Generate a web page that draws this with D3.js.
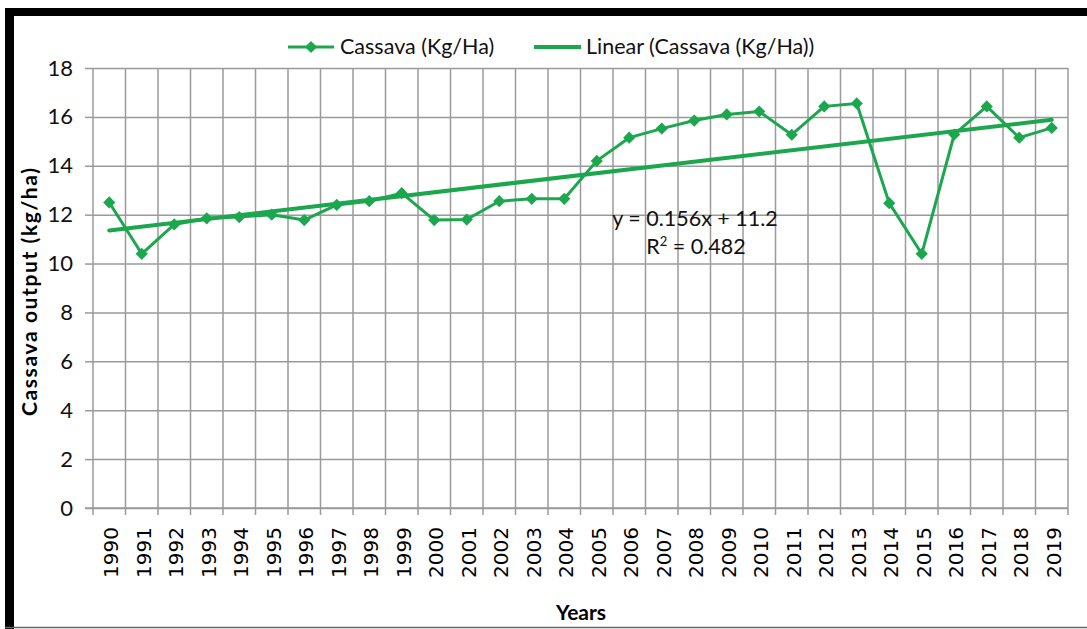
<!DOCTYPE html>
<html>
<head>
<meta charset="utf-8">
<script src="https://cdn.jsdelivr.net/npm/d3@7"></script>
<style>
    body { margin: 0; background: #ffffff; }
    svg { display: block; }
</style>
</head>
<body>
<script>

// values
const years = ['1990','1991','1992','1993','1994','1995','1996','1997','1998','1999',
               '2000','2001','2002','2003','2004','2005','2006','2007','2008','2009',
               '2010','2011','2012','2013','2014','2015','2016','2017','2018','2019']

const cassava = [12.5, 10.4, 11.6, 11.85, 11.9, 12.0, 11.78, 12.4, 12.55, 12.88,
                 11.78, 11.8, 12.55, 12.65, 12.65, 14.2, 15.15, 15.52, 15.85, 16.1,
                 16.22, 15.27, 16.43, 16.55, 12.47, 10.4, 15.28, 16.43, 15.15, 15.55]

const yTicks = [0, 2, 4, 6, 8, 10, 12, 14, 16, 18]

// trendline as printed on the chart
const trendSlope = 0.156
const trendIntercept = 11.2
const trendLabel = 'y = 0.156x + 11.2'
const r2Label = '0.482'

const legendLabels = ['Cassava (Kg/Ha)', 'Linear (Cassava (Kg/Ha))']

const green = '#1ca74e'
const gridColor = '#9a9a9a'
const labelFont = 'Lato, "Open Sans", sans-serif'
const yearFont = '"DejaVu Sans", Verdana, sans-serif'

const width = 1087
const height = 629
const plot = {left: 93, right: 1068, top: 68, bottom: 508}

const svg = d3.select('body').append('svg')
    .attr('width', width)
    .attr('height', height)

// frame: thick black on top and left, thin grey at bottom
svg.append('rect').attr('x', 0).attr('y', 0).attr('width', width).attr('height', height).attr('fill', 'white')
svg.append('rect').attr('x', 5).attr('y', 8).attr('width', width - 5).attr('height', 8).attr('fill', 'black')
svg.append('rect').attr('x', 5).attr('y', 8).attr('width', 9).attr('height', height - 8).attr('fill', 'black')
svg.append('line')
    .attr('x1', 5).attr('x2', width)
    .attr('y1', 627.5).attr('y2', 627.5)
    .attr('stroke', '#666').attr('stroke-width', 1.5)

const x = d3.scaleBand()
    .domain(years)
    .range([plot.left, plot.right])

const y = d3.scaleLinear()
    .domain([0, 18])
    .range([plot.bottom, plot.top])

// trend line uses x = 1..30 like the spreadsheet does
const xIndex = d3.scaleLinear()
    .domain([1, years.length])
    .range([x(years[0]) + x.bandwidth() / 2, x(years[years.length - 1]) + x.bandwidth() / 2])

// horizontal grid + left ticks
const yAxis = svg.append('g')
    .attr('transform', `translate(${plot.left},0)`)
    .call(d3.axisLeft(y).tickValues(yTicks).tickSize(8).tickPadding(12))

yAxis.select('.domain').remove()
yAxis.selectAll('.tick line')
    .attr('stroke', gridColor)
    .attr('stroke-width', 1.5)
    .clone()
    .attr('x2', plot.right - plot.left)
    .attr('x1', 0)
yAxis.selectAll('.tick text')
    .style('font-family', labelFont)
    .style('font-size', '22px')
    .attr('fill', '#111')

// vertical grid at category edges
const edges = years.map(d => x(d)).concat([plot.right])
svg.append('g').selectAll('line')
    .data(edges)
    .join('line')
    .attr('x1', d => d).attr('x2', d => d)
    .attr('y1', plot.top).attr('y2', plot.bottom + 7)
    .attr('stroke', gridColor)
    .attr('stroke-width', 1.5)

// x axis line
svg.append('line')
    .attr('x1', plot.left - 8).attr('x2', plot.right)
    .attr('y1', plot.bottom).attr('y2', plot.bottom)
    .attr('stroke', gridColor).attr('stroke-width', 1.5)

// year labels, rotated
svg.append('g').selectAll('text')
    .data(years)
    .join('text')
    .attr('transform', d => `translate(${x(d) + x.bandwidth() / 2 + 9},527) rotate(-90)`)
    .attr('text-anchor', 'end')
    .style('font-family', yearFont)
    .style('font-size', '20px')
    .attr('fill', '#000')
    .text(d => d)

// axis titles
svg.append('text')
    .attr('x', 581).attr('y', 620)
    .attr('text-anchor', 'middle')
    .style('font-family', labelFont)
    .style('font-size', '21px')
    .style('font-weight', 'bold')
    .attr('fill', '#000')
    .text('Years')

svg.append('text')
    .attr('transform', 'translate(37,292) rotate(-90)')
    .attr('text-anchor', 'middle')
    .attr('textLength', 248)
    .style('font-family', labelFont)
    .style('font-size', '21px')
    .style('font-weight', 'bold')
    .attr('fill', '#000')
    .text('Cassava output (kg/ha)')

// trend line
svg.append('line')
    .attr('x1', xIndex(1))
    .attr('y1', y(trendSlope * 1 + trendIntercept))
    .attr('x2', xIndex(years.length))
    .attr('y2', y(trendSlope * years.length + trendIntercept))
    .attr('stroke', green)
    .attr('stroke-width', 4)
    .attr('stroke-linecap', 'round')

// data series
const line = d3.line()
    .x((d, i) => x(years[i]) + x.bandwidth() / 2)
    .y(d => y(d))

svg.append('path')
    .datum(cassava)
    .attr('d', line)
    .attr('fill', 'none')
    .attr('stroke', green)
    .attr('stroke-width', 3)
    .attr('stroke-linejoin', 'round')

const diamond = d3.symbol().type(d3.symbolDiamond2).size(95)

svg.append('g').selectAll('path')
    .data(cassava)
    .join('path')
    .attr('d', diamond)
    .attr('transform', (d, i) => `translate(${x(years[i]) + x.bandwidth() / 2},${y(d)})`)
    .attr('fill', green)

// equation text
const eq = svg.append('g')
    .style('font-family', labelFont)
    .style('font-size', '21.5px')
    .attr('fill', '#111')

eq.append('text')
    .attr('x', 695).attr('y', 226)
    .attr('text-anchor', 'middle')
    .text(trendLabel)

const r2 = eq.append('text')
    .attr('x', 696).attr('y', 254)
    .attr('text-anchor', 'middle')
r2.append('tspan').text('R')
r2.append('tspan').attr('dy', -8).style('font-size', '13px').text('2')
r2.append('tspan').attr('dy', 8).text(' = ' + r2Label)

// legend
const legend = svg.append('g')
    .style('font-family', labelFont)
    .style('font-size', '21.5px')

legend.append('line')
    .attr('x1', 288).attr('x2', 334).attr('y1', 47).attr('y2', 47)
    .attr('stroke', green).attr('stroke-width', 3)
legend.append('path')
    .attr('d', diamond)
    .attr('transform', 'translate(311,47)')
    .attr('fill', green)
legend.append('text')
    .attr('x', 340).attr('y', 54)
    .attr('fill', '#111')
    .text(legendLabels[0])

legend.append('line')
    .attr('x1', 534).attr('x2', 581).attr('y1', 47).attr('y2', 47)
    .attr('stroke', green).attr('stroke-width', 4)
legend.append('text')
    .attr('x', 586).attr('y', 54)
    .attr('fill', '#111')
    .text(legendLabels[1])

</script>
</body>
</html>
